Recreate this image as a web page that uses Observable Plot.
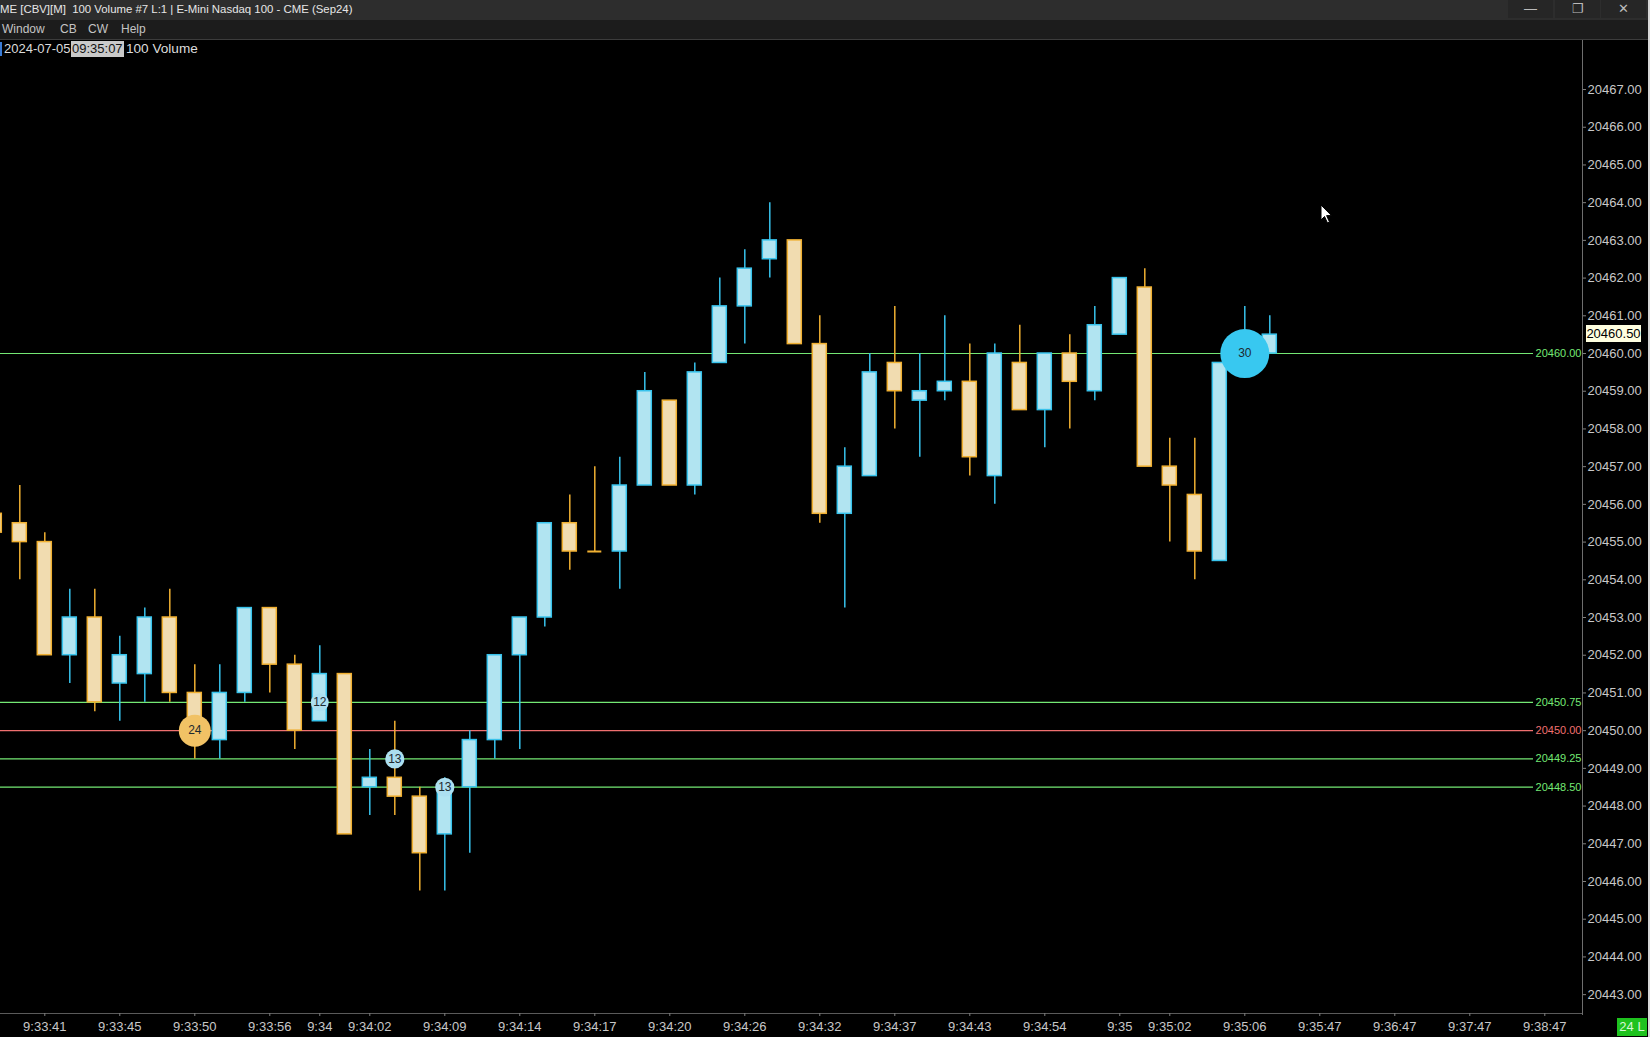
<!DOCTYPE html>
<html>
<head>
<meta charset="utf-8">
<script src="https://cdn.jsdelivr.net/npm/d3@7"></script>
<script src="https://cdn.jsdelivr.net/npm/@observablehq/plot@0.6"></script>
<style>
  html, body { margin: 0; padding: 0; background: #000; }
  body { width: 1650px; height: 1037px; overflow: hidden; position: relative; font-family: "Liberation Sans", Arial, sans-serif; }
  #titlebar { position: absolute; left: 0; top: 0; width: 1650px; height: 20px; background: #2d2d2d; color: #e6e6e6; font-size: 11.4px; line-height: 18px; white-space: pre; }
  #titlebar .t { position: absolute; left: 0; top: 0; }
  .btn { position: absolute; top: 0; width: 45px; height: 18px; background: #262626; color: #bbb; text-align: center; font-size: 13px; line-height: 18px; }
  #menubar { position: absolute; left: 0; top: 20px; width: 1650px; height: 19px; background: #1c1c1c; border-bottom: 1px solid #3c3c3c; color: #c4c4c4; font-size: 12px; line-height: 19px; }
  #menubar span { position: absolute; top: 0; }
  #chart { position: absolute; left: 0; top: 40px; }
  .ov { position: absolute; white-space: pre; }
</style>
</head>
<body>
<div id="titlebar"><span class="t">ME [CBV][M]  100 Volume #7 L:1 | E-Mini Nasdaq 100 - CME (Sep24)</span>
  <div class="btn" style="left:1508px">&#8212;</div>
  <div class="btn" style="left:1555px">&#10064;</div>
  <div class="btn" style="left:1601px">&#10005;</div>
</div>
<div id="menubar"><span style="left:2px">Window</span><span style="left:60px">CB</span><span style="left:88px">CW</span><span style="left:121px">Help</span></div>
<div id="chart"></div>
<script>
// ---- data ----
const firstIndex = -1;
const open  = [20455.75,20455.5,20455.0,20452.0,20453.0,20451.25,20451.5,20453.0,20451.0,20449.75,20451.0,20453.25,20451.75,20450.25,20451.5,20448.5,20448.75,20448.25,20447.25,20448.5,20449.75,20452.0,20453.0,20455.5,20454.75,20454.75,20456.5,20458.75,20456.5,20459.75,20461.25,20462.5,20463.0,20460.25,20455.75,20456.75,20459.75,20458.75,20459.0,20459.25,20456.75,20459.75,20458.5,20460.0,20459.0,20460.5,20461.75,20457.0,20456.25,20454.5,20460.0,20460.0];
const high  = [20456.0,20456.5,20455.25,20453.75,20453.75,20452.5,20453.25,20453.75,20451.75,20451.75,20453.25,20453.25,20452.0,20452.25,20451.5,20449.5,20450.25,20448.5,20448.75,20450.0,20452.0,20453.0,20455.5,20456.25,20457.0,20457.25,20459.5,20458.75,20459.75,20462.0,20462.75,20464.0,20463.0,20461.0,20457.5,20460.0,20461.25,20460.0,20461.0,20460.25,20460.25,20460.75,20460.0,20460.5,20461.25,20462.0,20462.25,20457.75,20457.75,20459.75,20461.25,20461.0];
const low   = [20455.0,20454.0,20452.0,20451.25,20450.5,20450.25,20450.75,20450.75,20449.25,20449.25,20450.75,20451.0,20449.5,20450.25,20447.25,20447.75,20447.75,20445.75,20445.75,20446.75,20449.25,20449.5,20452.75,20454.25,20454.75,20453.75,20456.5,20456.5,20456.25,20459.75,20460.25,20462.0,20460.25,20455.5,20453.25,20456.75,20458.0,20457.25,20458.75,20456.75,20456.0,20458.5,20457.5,20458.0,20458.75,20460.5,20457.0,20455.0,20454.0,20454.5,20459.75,20460.0];
const close = [20455.25,20455.0,20452.0,20453.0,20450.75,20452.0,20453.0,20451.0,20450.25,20451.0,20453.25,20451.75,20450.0,20451.5,20447.25,20448.75,20448.25,20446.75,20448.5,20449.75,20452.0,20453.0,20455.5,20454.75,20454.75,20456.5,20459.0,20456.5,20459.5,20461.25,20462.25,20463.0,20460.25,20455.75,20457.0,20459.5,20459.0,20459.0,20459.25,20457.25,20460.0,20458.5,20460.0,20459.25,20460.75,20462.0,20457.0,20456.5,20454.75,20459.75,20460.25,20460.5];

const tickIdx    = [1,4,7,10,12,14,17,20,23,26,29,32,35,38,41,44,46,49,52,55,58,61];
const tickLabels = ["9:33:41","9:33:45","9:33:50","9:33:56","9:34","9:34:02","9:34:09","9:34:14","9:34:17","9:34:20","9:34:26","9:34:32","9:34:37","9:34:43","9:34:54","9:35","9:35:02","9:35:06","9:35:47","9:36:47","9:37:47","9:38:47"];
const lastSlot = 62;

const priceTicks = d3.range(20443, 20468, 1);

const levels     = [20460.0, 20450.75, 20450.0, 20449.25, 20448.5];
const levelKinds = ["level", "level", "key", "level", "level"];

const markerIdx   = [7, 12, 15, 17, 49];
const markerPrice = [20450.0, 20450.75, 20449.25, 20448.5, 20460.0];
const markerVol   = [24, 12, 13, 13, 30];
const markerSide  = ["sell", "buy", "buy", "buy", "buy"];

const lastPrice = 20460.5;

// ---- derived tables ----
const candles = open.map((o, k) => ({i: k + firstIndex, open: o, high: high[k], low: low[k], close: close[k]}));
const up = candles.filter(d => d.close > d.open);
const down = candles.filter(d => d.close < d.open);
const doji = candles.filter(d => d.close === d.open);
const levelRows = levels.map((v, k) => ({v, kind: levelKinds[k]}));
const markers = markerIdx.map((i, k) => ({i, price: markerPrice[k], vol: markerVol[k], side: markerSide[k]}));
const tickMap = new Map(tickIdx.map((t, k) => [t, tickLabels[k]]));

const UP_FILL = "#b1e4f1", UP_STROKE = "#38c3ec";
const DN_FILL = "#f1dcb0", DN_STROKE = "#f0b032";
const GREEN = "#74e874", RED = "#f07070";
const levelColor = d => d.kind === "key" ? RED : GREEN;
const markerColor = d => d.side === "sell" ? "#f1c265" : (d.vol >= 20 ? "#38c8f0" : "#acdff0");

const chart = Plot.plot({
  width: 1650,
  height: 997,
  marginLeft: 0,
  marginRight: 68,
  marginTop: 0,
  marginBottom: 24,
  style: {background: "#000", color: "#c8c8c8", fontFamily: "'Liberation Sans', Arial, sans-serif", fontSize: "13px"},
  x: {type: "band", domain: d3.range(firstIndex, lastSlot + 1), range: [-18.2, 1581.8], paddingInner: 0.44, paddingOuter: 0.22, round: false, label: null, axis: null},
  y: {domain: [20442.5, 20468.3], label: null, axis: null},
  r: {type: "linear", domain: [12, 24, 30], range: [9, 16, 24.5]},
  marks: [
    Plot.ruleY(levelRows, {y: "v", stroke: levelColor, strokeWidth: 1.2, insetRight: 49}),
    Plot.text(levelRows, {y: "v", text: d => d.v.toFixed(2), frameAnchor: "right", textAnchor: "end", dx: -1, fill: levelColor, fontSize: 11}),
    Plot.ruleX(up, {x: "i", y1: "low", y2: "high", stroke: UP_STROKE, strokeWidth: 1.5}),
    Plot.ruleX(down.concat(doji), {x: "i", y1: "low", y2: "high", stroke: DN_STROKE, strokeWidth: 1.5}),
    Plot.barY(up, {x: "i", y1: "open", y2: "close", fill: UP_FILL, stroke: UP_STROKE, strokeWidth: 1.5}),
    Plot.barY(down, {x: "i", y1: "open", y2: "close", fill: DN_FILL, stroke: DN_STROKE, strokeWidth: 1.5}),
    Plot.tickY(doji, {x: "i", y: "close", stroke: DN_STROKE, strokeWidth: 2}),
    Plot.dot(markers, {x: "i", y: "price", r: "vol", fill: markerColor, stroke: "none"}),
    Plot.text(markers, {x: "i", y: "price", text: d => String(d.vol), fill: "#1e2a30", fontSize: 12}),
    Plot.ruleY([20442.5], {stroke: "#5a5a5a"}),
    Plot.axisY({anchor: "right", ticks: priceTicks, tickFormat: d => d.toFixed(2), tickSize: 3, tickPadding: 2, fontSize: 13, stroke: "#808080", fill: "#c8c8c8", label: null}),
    Plot.axisX({ticks: tickIdx, tickFormat: d => tickMap.get(d), tickSize: 3, tickPadding: 5, fontSize: 13, stroke: "#808080", fill: "#c8c8c8", label: null})
  ]
});
document.getElementById("chart").appendChild(chart);

// overlays positioned with the library's scales
const ys = chart.scale("y");
const body = document.body;
function ov(html, css) { const d = document.createElement("div"); d.className = "ov"; d.innerHTML = html; Object.assign(d.style, css); body.appendChild(d); return d; }

// right axis vertical line
ov("", {left: "1582px", top: "40px", width: "1px", height: "975px", background: "#6e6e6e"});
// right window border
ov("", {left: "1648px", top: "0px", width: "2px", height: "1037px", background: "#d8d8d8"});
// last price box
const yLast = ys.apply(lastPrice) + 40;
ov(lastPrice.toFixed(2), {left: "1586px", top: (yLast - 9) + "px", width: "55px", height: "17px", background: "#ffffe0", color: "#000", fontSize: "13px", lineHeight: "17px", textAlign: "center"});
// info line
ov("", {left: "0px", top: "42px", width: "2px", height: "14px", background: "#3a7bd5"});
ov("2024-07-05", {left: "4px", top: "41px", color: "#dcdcdc", fontSize: "13px", lineHeight: "16px"});
ov("09:35:07", {left: "71px", top: "41px", color: "#111", background: "#c9c9c9", fontSize: "13px", lineHeight: "16px", padding: "0 1px"});
ov("100 Volume", {left: "126px", top: "41px", color: "#dcdcdc", fontSize: "13.6px", lineHeight: "16px"});
// status box
ov("24 L", {left: "1617px", top: "1018px", width: "30px", height: "18px", background: "#1ec21e", color: "#d8f8d8", fontSize: "13px", lineHeight: "18px", textAlign: "center"});
// mouse cursor
ov('<svg width="14" height="22" viewBox="0 0 14 22"><path d="M1 1 L1 16 L4.5 12.5 L7.5 19 L9.5 18 L6.6 11.6 L11.5 11.6 Z" fill="#fff" stroke="#000" stroke-width="1"/></svg>', {left: "1320px", top: "204px"});
</script>
</body>
</html>
